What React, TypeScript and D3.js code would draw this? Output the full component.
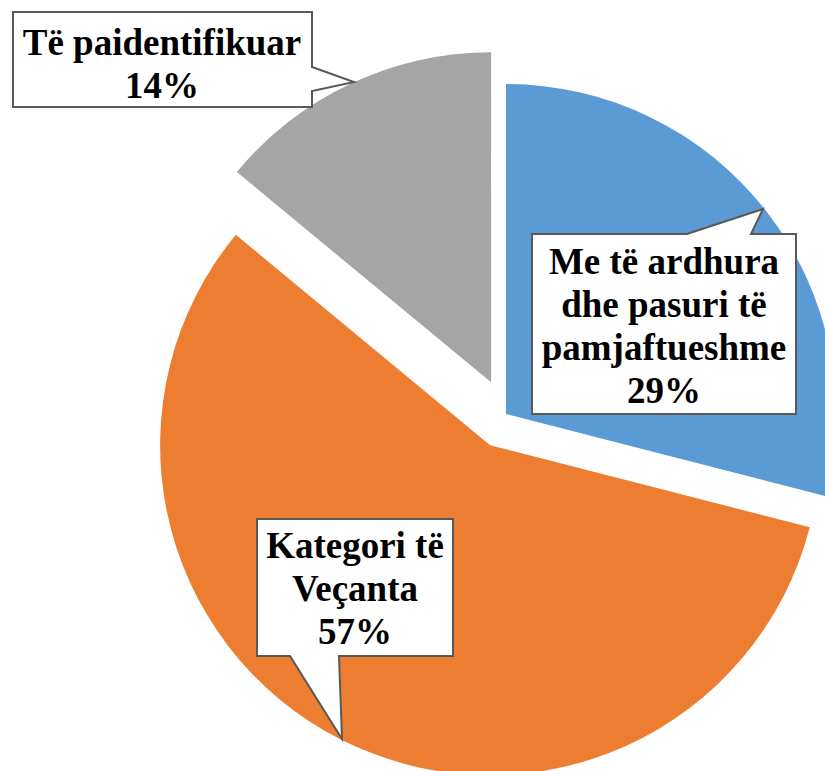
import React from 'react';
import * as d3 from 'd3';

// chart data
const categories = ['Me të ardhura\ndhe pasuri të\npamjaftueshme', 'Kategori të\nVeçanta', 'Të paidentifikuar'];
const values = [29, 57, 14];
const colors = ['#5B9BD5', '#ED7D31', '#A5A5A5'];

interface Props {}

class App extends React.Component<Props> {
	componentDidMount() {
		this.drawChart();
	}

	drawChart() {
		const w = 825;
		const h = 771;
		const cx = 506;
		const cy = 414;
		const r = 330;
		const explode = [0, 35, 35];

		// callout boxes drawn by hand, one per slice
		const callouts = [
			{ path: 'M532,234 H687 L763,209 L751,234 H796 V414 H532 Z', x: 664, y: 274 },
			{ path: 'M257,519 H453 V656 H339 L342,739 L290,656 H257 Z', x: 355, y: 558 },
			{ path: 'M13,12 H312 V67 L354,82 L312,91 V107 H13 Z', x: 162, y: 55 },
		];
		const lineH = 43;

		d3.select('#chart').selectAll('*').remove();
		const svg = d3
			.select('#chart')
			.append('svg')
			.attr('width', w)
			.attr('height', h)
			.style('display', 'block');

		const pie = d3.pie<number>().sort(null).value(d => d);
		const arcs = pie(values);
		const arc = d3.arc<d3.PieArcDatum<number>>().innerRadius(0).outerRadius(r);

		svg
			.selectAll('path.slice')
			.data(arcs)
			.enter()
			.append('path')
			.attr('class', 'slice')
			.attr('d', arc)
			.attr('fill', (d, i) => colors[i])
			.attr('transform', (d, i) => {
				const mid = (d.startAngle + d.endAngle) / 2;
				const dx = cx + explode[i] * Math.sin(mid);
				const dy = cy - explode[i] * Math.cos(mid);
				return `translate(${dx},${dy})`;
			});

		const labels = svg
			.selectAll('g.label')
			.data(arcs)
			.enter()
			.append('g')
			.attr('class', 'label');

		labels
			.append('path')
			.attr('d', (d, i) => callouts[i].path)
			.attr('fill', 'white')
			.attr('stroke', '#595959')
			.attr('stroke-width', 2);

		labels
			.append('text')
			.style('font-family', "'Liberation Serif', 'DejaVu Serif', serif")
			.style('font-weight', '700')
			.style('font-size', '37px')
			.attr('fill', 'black')
			.attr('text-anchor', 'middle')
			.each(function (d, i) {
				const lines = categories[i].split('\n').concat([`${values[i]}%`]);
				d3.select(this)
					.selectAll('tspan')
					.data(lines)
					.enter()
					.append('tspan')
					.attr('x', callouts[i].x)
					.attr('y', (l, j) => callouts[i].y + j * lineH)
					.text(l => l);
			});
	}

	render() {
		return (
			<div id="chart" style={{ position: 'absolute', left: 0, top: 0 }} />
		);
	}
}

export default App;
